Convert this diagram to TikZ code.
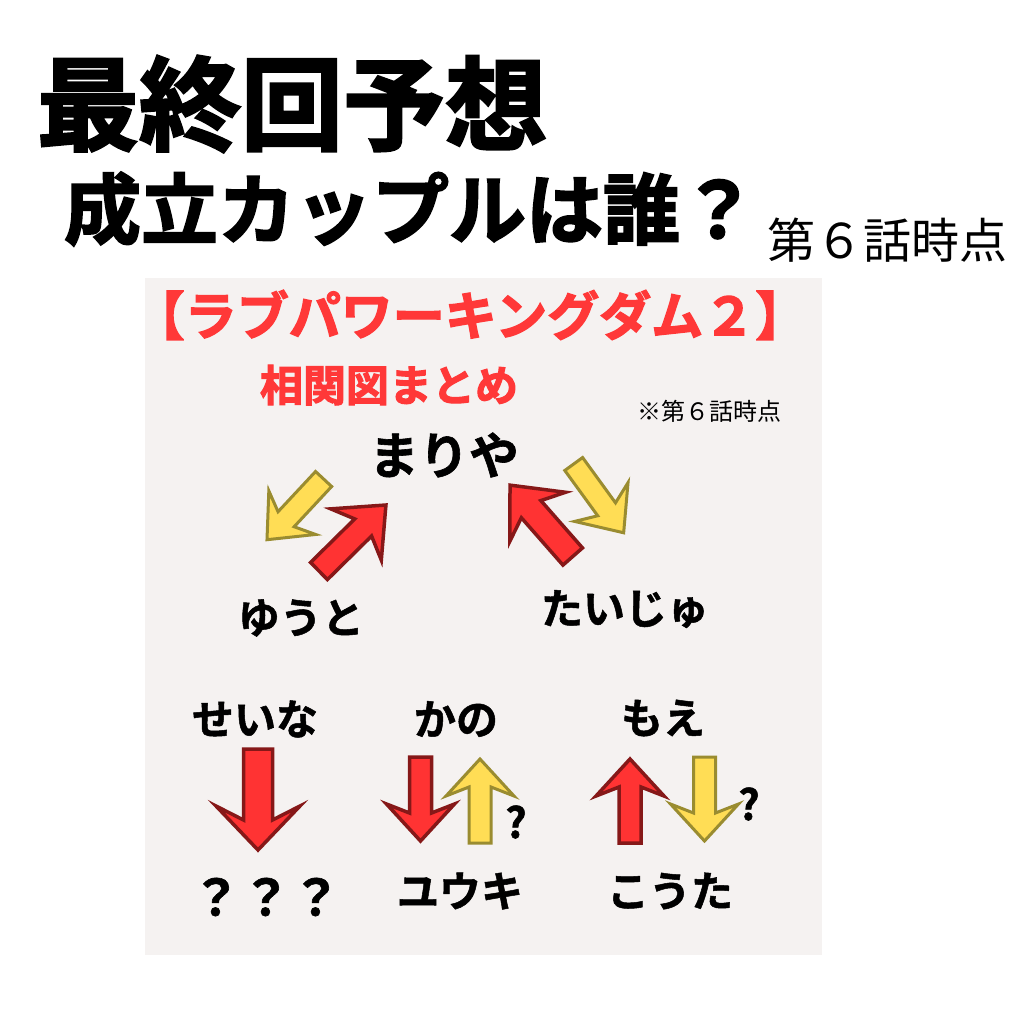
\documentclass[tikz,border=0pt]{standalone}
\usepackage{fontspec}
\newfontfamily\jpr{Noto Sans CJK JP}
\newfontfamily\jpb{Noto Sans CJK JP Bold}
\newfontfamily\jpbb{Noto Sans CJK JP Bold}[FakeBold=2.5]
\newfontfamily\jpbx{Noto Sans CJK JP Bold}[FakeBold=1.2]
\definecolor{panel}{HTML}{F5F2F1}
\definecolor{rfill}{HTML}{FF3333}
\definecolor{rline}{HTML}{861818}
\definecolor{yfill}{HTML}{FFDD55}
\definecolor{yline}{HTML}{9A8C30}
\definecolor{ttl}{HTML}{FF3838}
\newcommand\arrpath[5]{(0,-#4) -- (#2,-#4) -- (#3,-#5) -- (#1,0) -- (#3,#5) -- (#2,#4) -- (0,#4) -- cycle}
\tikzset{
  redarr/.style={fill=rfill,draw=rline,line width=3.5pt},
  yelarr/.style={fill=yfill,draw=yline,line width=3pt},
  txtbox/.style={inner sep=0pt,outer sep=0pt},
  nmbox/.style={txtbox,font=\jpbx\fontsize{42}{42}\selectfont}}
\begin{document}
\begin{tikzpicture}[x=1pt,y=-1pt]
\useasboundingbox[fill=white] (0,0) rectangle (1024,1024);
% panel
\fill[panel] (145,278) rectangle (822,955);
% headings
\node[txtbox,anchor=west,font=\jpbb\fontsize{102}{102}\selectfont] (t1) at (37,104) {最終回予想};
\node[txtbox,anchor=west,font=\jpbb\fontsize{77}{77}\selectfont] (t2) at (64,209) {成立カップルは誰？};
\node[txtbox,anchor=west,font=\jpr\fontsize{48}{48}\selectfont] (t3) at (767,240) {第６話時点};
\node[txtbox,text=ttl,font=\jpbb\fontsize{52}{52}\selectfont] (p1) at (470,315) {【ラブパワーキングダム２】};
\node[txtbox,text=ttl,font=\jpbb\fontsize{43}{43}\selectfont] (p2) at (389,385) {相関図まとめ};
\node[txtbox,font=\jpr\fontsize{24}{24}\selectfont] (p3) at (709,411) {※第６話時点};
% names
\node[txtbox,font=\jpbx\fontsize{50}{50}\selectfont] (mariya) at (444,455) {まりや};
\node[nmbox] (yuuto) at (301,618) {ゆうと};
\node[nmbox] (taiju) at (625,609) {たいじゅ};
\node[nmbox] (seina) at (255,719) {せいな};
\node[nmbox] (kano) at (456,719) {かの};
\node[nmbox] (moe) at (663,718) {もえ};
\node[txtbox,font=\jpbx\fontsize{50}{50}\selectfont] (unk) at (266,897) {？？？};
\node[nmbox] (yuuki) at (460,891) {ユウキ};
\node[nmbox] (kouta) at (670,891) {こうた};
\node[txtbox,font=\jpbx\fontsize{42}{42}\selectfont] (q1) at (516,822) {?};
\node[txtbox,font=\jpbx\fontsize{42}{42}\selectfont] (q2) at (749,804) {?};
% arrows mariya <-> yuuto
\draw[yelarr,shift={(323.6,479)},rotate=-133] \arrpath{83}{55}{46}{11}{32};
\draw[redarr,shift={(319,571)},rotate=44.6] \arrpath{94}{62}{52}{12}{36};
% arrows mariya <-> taiju
\draw[redarr,shift={(572.7,556.5)},rotate=131.3] \arrpath{95}{63}{53}{13}{37};
\draw[yelarr,shift={(573.7,464)},rotate=-54] \arrpath{85}{56}{47}{11}{33};
% seina
\draw[redarr,shift={(258,749)},rotate=-90] \arrpath{101}{71}{57}{14.5}{42};
% kano / yuuki
\draw[redarr,shift={(420.5,757)},rotate=-90] \arrpath{84}{56}{47}{11}{34};
\draw[yelarr,shift={(480,843)},rotate=90] \arrpath{84}{56}{47}{11}{34};
% moe / kouta
\draw[redarr,shift={(630,843)},rotate=90] \arrpath{84}{56}{47}{11}{34};
\draw[yelarr,shift={(704.5,757)},rotate=-90] \arrpath{84}{56}{47}{11}{34};
\end{tikzpicture}
\end{document}
